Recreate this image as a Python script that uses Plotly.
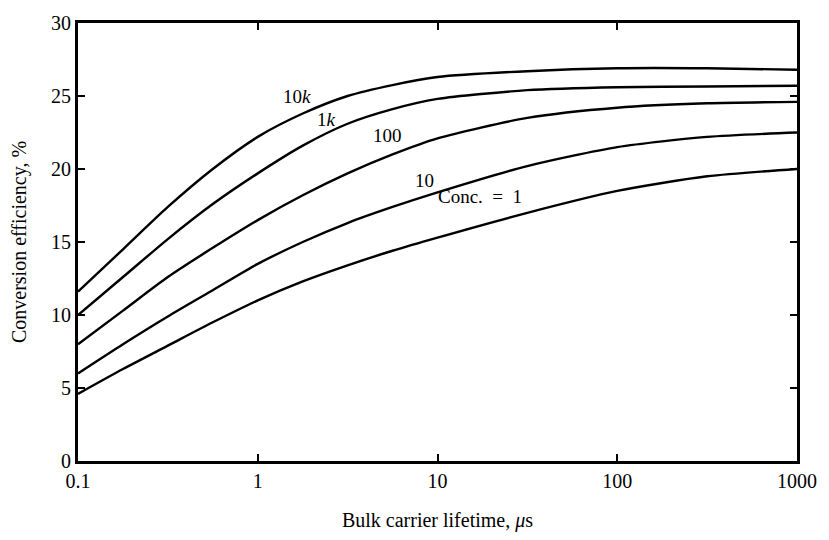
import math
import plotly.graph_objects as go

# Bulk carrier lifetime (microseconds)
tau = [0.1, 0.178, 0.316, 0.562, 1, 1.78, 3.16, 5.62, 10, 31.6, 100, 316, 1000]
# Conversion efficiency (%) for each concentration
eff_10k = [11.6, 14.5, 17.4, 20.0, 22.2, 23.8, 25.0, 25.75, 26.3, 26.7, 26.9, 26.9, 26.8]
eff_1k = [10.0, 12.6, 15.2, 17.6, 19.7, 21.6, 23.1, 24.1, 24.8, 25.4, 25.6, 25.65, 25.7]
eff_100 = [8.0, 10.3, 12.6, 14.6, 16.5, 18.2, 19.7, 21.0, 22.1, 23.5, 24.2, 24.5, 24.6]
eff_10 = [6.0, 8.0, 9.9, 11.7, 13.5, 15.0, 16.3, 17.4, 18.4, 20.2, 21.5, 22.2, 22.5]
eff_1 = [4.6, 6.3, 7.9, 9.5, 11.0, 12.3, 13.4, 14.4, 15.3, 17.0, 18.5, 19.5, 20.0]

series = [eff_10k, eff_1k, eff_100, eff_10, eff_1]

# Curve labels (text, lifetime, efficiency)
label_text = ["10<i>k</i>", "1<i>k</i>", "100", "10", "Conc.  =  1"]
label_x = [1.65, 2.40, 5.27, 8.43, 17.3]
label_y = [25.0, 23.4, 22.3, 19.2, 18.1]

x_tickvals = [0.1, 1, 10, 100, 1000]
x_ticktext = ["0.1", "1", "10", "100", "1000"]
y_tickvals = [0, 5, 10, 15, 20, 25, 30]

font_family = "Liberation Serif"

fig = go.Figure()
for s in series:
    fig.add_trace(go.Scatter(
        x=tau, y=s, mode="lines",
        line=dict(color="black", width=2.4, shape="spline", smoothing=0.7),
        showlegend=False, hoverinfo="skip",
    ))

for t, lx, ly in zip(label_text, label_x, label_y):
    fig.add_annotation(x=math.log10(lx), y=ly, xref="x", yref="y", text=t,
                       showarrow=False,
                       font=dict(family=font_family, size=19, color="black"))

fig.update_layout(
    width=829, height=540,
    margin=dict(l=78, r=24, t=15, b=78),
    paper_bgcolor="white", plot_bgcolor="white",
    font=dict(family=font_family, size=20, color="black"),
    showlegend=False,
)
fig.update_xaxes(
    type="log", range=[-1, 3],
    tickvals=x_tickvals, ticktext=x_ticktext,
    ticks="inside", ticklen=7, tickwidth=2, tickcolor="black",
    showline=True, linecolor="black", linewidth=3, mirror="ticks",
    showgrid=False, zeroline=False,
    title=dict(text="Bulk carrier lifetime, <i>μ</i>s", standoff=22,
               font=dict(family=font_family, size=20)),
    tickfont=dict(family=font_family, size=20),
)
fig.update_yaxes(
    range=[0, 30], tickvals=y_tickvals,
    ticks="inside", ticklen=7, tickwidth=2, tickcolor="black",
    showline=True, linecolor="black", linewidth=3, mirror="ticks",
    showgrid=False, zeroline=False,
    title=dict(text="Conversion efficiency, %", standoff=20,
               font=dict(family=font_family, size=20)),
    tickfont=dict(family=font_family, size=20),
)

fig.write_html("out.html")
